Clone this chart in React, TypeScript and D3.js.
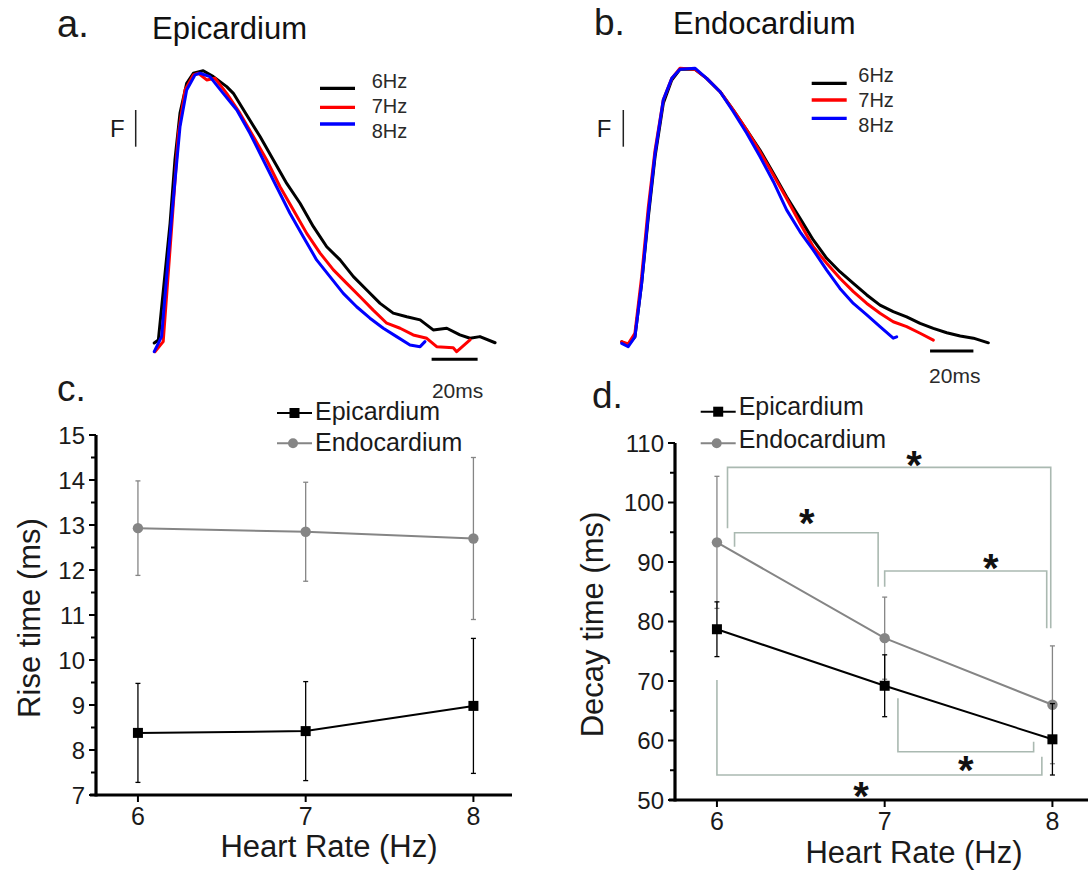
import React from 'react';
import * as d3 from 'd3';

const FONT = "'Liberation Sans', Arial, Helvetica, sans-serif";

// ---- Panel a (Epicardium) traces: [time ms, F % of peak]
const epi6Hz: [number, number][] = [
  [0.1, 2.5], [1.9, 3.6], [7.0, 45.5], [9.1, 68.1], [11.3, 84.9], [14.2, 95.6], [17.1, 99.2],
  [21.4, 100.1], [25.8, 98.0], [31.6, 94.4], [34.5, 92.0], [40.3, 84.2], [46.1, 76.5],
  [51.9, 68.1], [57.7, 59.7], [63.5, 52.6], [69.3, 44.2], [75.1, 37.0], [80.9, 32.3],
  [86.7, 26.3], [92.5, 21.5], [98.3, 16.7], [104.0, 13.2], [109.9, 11.9], [115.7, 10.8],
  [121.4, 7.2], [127.3, 7.8], [133.0, 5.4], [137.4, 4.2], [141.7, 4.8], [148.3, 2.6],
];
const epi7Hz: [number, number][] = [
  [0.4, -0.6], [4.0, 3.0], [7.7, 44.2], [10.6, 77.7], [13.5, 93.2], [17.1, 98.6], [19.3, 99.2],
  [22.9, 96.8], [26.5, 97.4], [31.6, 92.0], [37.4, 84.8], [43.2, 76.5], [49.0, 68.1],
  [54.8, 58.5], [60.6, 50.2], [66.4, 41.8], [72.2, 34.7], [78.0, 28.7], [83.8, 23.9],
  [89.6, 19.1], [95.3, 14.3], [101.2, 9.6], [107.0, 7.8], [112.7, 5.4], [118.6, 4.2],
  [122.9, 1.2], [130.1, 0.8], [131.6, -0.6], [137.4, 3.6],
];
const epi8Hz: [number, number][] = [
  [0.1, -0.6], [3.3, 4.8], [7.7, 47.8], [11.3, 80.0], [14.2, 93.2], [17.8, 98.6], [20.0, 99.2],
  [24.3, 98.0], [30.1, 92.0], [36.0, 86.0], [41.7, 77.7], [47.5, 68.1], [53.3, 58.5],
  [59.1, 49.0], [64.9, 40.6], [70.7, 32.3], [76.5, 26.3], [82.3, 20.3], [88.1, 15.5],
  [93.9, 11.4], [99.7, 7.8], [105.5, 4.8], [111.3, 1.8], [115.7, 1.2], [117.8, 3.0],
];

// ---- Panel b (Endocardium) traces
const endo6Hz: [number, number][] = [
  [0, 0.1], [3.0, -1.1], [6.1, 1.9], [9.2, 21.4], [12.3, 45.8], [15.4, 67.8], [19.2, 87.3],
  [23.1, 95.8], [26.9, 99.7], [33.8, 99.7], [39.2, 96.4], [45.4, 91.5], [51.5, 84.8],
  [57.7, 77.5], [63.8, 70.2], [70.0, 61.7], [76.1, 53.1], [82.3, 45.2], [88.4, 37.3],
  [94.6, 30.6], [100.7, 25.7], [106.9, 21.4], [113.1, 17.2], [119.2, 13.5], [125.3, 11.1],
  [131.5, 9.2], [137.7, 6.8], [143.8, 5.0], [150.0, 3.4], [156.2, 2.2], [162.3, 1.4], [169.2, -0.3],
];
const endo7Hz: [number, number][] = [
  [0, 0.1], [3.0, -0.7], [6.1, 3.2], [9.2, 23.9], [12.3, 49.5], [15.4, 70.2], [19.2, 88.6],
  [23.1, 96.4], [26.9, 100.1], [33.8, 99.7], [39.2, 96.4], [45.4, 91.5], [51.5, 84.8],
  [57.7, 77.5], [63.8, 69.6], [70.0, 61.1], [76.1, 52.5], [82.3, 43.4], [88.4, 34.8],
  [94.6, 28.8], [100.7, 23.3], [106.9, 18.4], [113.1, 14.1], [119.2, 10.5], [125.3, 7.4],
  [131.5, 5.6], [137.7, 3.2], [143.8, 0.7],
];
const endo8Hz: [number, number][] = [
  [0, -0.5], [3.0, -1.7], [6.1, 1.9], [9.2, 21.4], [12.3, 47.0], [15.4, 69.0], [19.2, 88.6],
  [23.1, 96.4], [26.9, 99.7], [33.8, 100.1], [39.2, 96.4], [45.4, 91.5], [51.5, 84.2],
  [57.7, 76.3], [63.8, 67.8], [70.0, 58.6], [76.1, 48.3], [82.3, 40.3], [88.4, 33.6],
  [94.6, 26.3], [100.7, 19.6], [106.9, 14.1], [113.1, 9.9], [119.2, 5.6], [125.3, 1.4], [126.9, 1.9],
];

const traceLabels = ['6Hz', '7Hz', '8Hz'];
const traceColors = ['#000000', '#ff0000', '#0000ff'];

// ---- Panels c / d
const heartRate = [6, 7, 8];
const riseEpi = [8.38, 8.42, 8.98];
const riseEpiErr = [1.1, 1.1, 1.5];
const riseEndo = [12.93, 12.85, 12.7];
const riseEndoErr = [1.05, 1.1, 1.8];
const decayEpi = [78.7, 69.2, 60.2];
const decayEpiErr = [4.6, 5.2, 6.0];
const decayEndo = [93.3, 77.2, 66.0];
const decayEndoErr = [11.1, 6.9, 9.9];

const riseTicks = [7, 8, 9, 10, 11, 12, 13, 14, 15];
const riseMinor = [7.5, 8.5, 9.5, 10.5, 11.5, 12.5, 13.5, 14.5];
const decayTicks = [50, 60, 70, 80, 90, 100, 110];
const decayMinor = [55, 65, 75, 85, 95, 105];

// significance brackets: [x1, x2, yBar, yEnd1, yEnd2]
const brackets: [number, number, number, number, number][] = [
  [6.063, 7.99, 105.9, 95.66, 78.86],
  [6.105, 6.961, 94.92, 92.57, 85.85],
  [7.0, 7.966, 88.49, 85.85, 78.86],
  [7.079, 7.888, 58.12, 67.09, 59.8],
  [6.0, 7.937, 54.2, 70.17, 57.28],
];
const stars: [number, number][] = [
  [7.175, 107.7],
  [6.536, 97.9],
  [7.632, 90.34],
  [7.483, 56.44],
  [6.859, 52.1],
];

const GRAY = '#858585';
const BRACKET = '#aab9b1';

function TracePanel(props: {
  traces: [number, number][][];
  x: d3.ScaleLinear<number, number>;
  y: d3.ScaleLinear<number, number>;
  legendX: number;
  legendLineYs: number[];
  legendTextX: number;
  legendTextYs: number[];
  barStart: number;
  barY: number;
  scaleLabelY: number;
  fX: number;
  fBarX: number;
}) {
  const { traces, x, y } = props;
  const line = d3
    .line<[number, number]>()
    .x((d) => x(d[0]))
    .y((d) => y(d[1]));
  const bx1 = x(props.barStart);
  const bx2 = x(props.barStart + 20);
  return (
    <g>
      {traces.map((t, i) => (
        <path
          key={i}
          d={line(t) || ''}
          fill="none"
          stroke={traceColors[i]}
          strokeWidth={3}
          strokeLinejoin="round"
          strokeLinecap="round"
        />
      ))}
      {traceLabels.map((lab, i) => (
        <g key={lab}>
          <line
            x1={props.legendX}
            x2={props.legendX + 35}
            y1={props.legendLineYs[i]}
            y2={props.legendLineYs[i]}
            stroke={traceColors[i]}
            strokeWidth={3.3}
          />
          <text x={props.legendTextX} y={props.legendTextYs[i]} fontSize={20} fill="#2a2a2a" fontFamily={FONT}>
            {lab}
          </text>
        </g>
      ))}
      <line x1={bx1} x2={bx2} y1={props.barY} y2={props.barY} stroke="#000" strokeWidth={3} />
      <text
        x={(bx1 + bx2) / 2 + 3}
        y={props.scaleLabelY}
        fontSize={21}
        textAnchor="middle"
        fill="#2a2a2a"
        fontFamily={FONT}
      >
        20ms
      </text>
      <text x={props.fX} y={137.3} fontSize={24} fill="#1a1a1a" fontFamily={FONT}>
        F
      </text>
      <line x1={props.fBarX} x2={props.fBarX} y1={110} y2={146.7} stroke="#222" strokeWidth={1.5} />
    </g>
  );
}

function StatPanel(props: {
  x: d3.ScaleLinear<number, number>;
  y: d3.ScaleLinear<number, number>;
  ticks: number[];
  minor: number[];
  epi: number[];
  epiErr: number[];
  endo: number[];
  endoErr: number[];
  yLabel: string;
  xAxisEnd: number;
  legendX: number;
  legendYs: number[];
  legendTextYs: number[];
  yLabelX: number;
  xLabelY: number;
  xLabelX: number;
  children?: React.ReactNode;
}) {
  const { x, y, ticks, minor } = props;
  const axisX = x.range()[0];
  const yMin = ticks[0];
  const yMax = ticks[ticks.length - 1];
  const axisY = y(yMin);
  const line = d3
    .line<number>()
    .x((_, i) => x(heartRate[i]))
    .y((d) => y(d));
  const lx = props.legendX;
  return (
    <g fontFamily={FONT}>
      {props.children}
      {/* endocardium */}
      {heartRate.map((h, i) => (
        <g key={'en' + h}>
          <line x1={x(h)} x2={x(h)} y1={y(props.endo[i] - props.endoErr[i])} y2={y(props.endo[i] + props.endoErr[i])} stroke={GRAY} strokeWidth={1.3} />
          <line x1={x(h) - 2.5} x2={x(h) + 2.5} y1={y(props.endo[i] + props.endoErr[i])} y2={y(props.endo[i] + props.endoErr[i])} stroke={GRAY} strokeWidth={1.3} />
          <line x1={x(h) - 2.5} x2={x(h) + 2.5} y1={y(props.endo[i] - props.endoErr[i])} y2={y(props.endo[i] - props.endoErr[i])} stroke={GRAY} strokeWidth={1.3} />
        </g>
      ))}
      <path d={line(props.endo) || ''} fill="none" stroke={GRAY} strokeWidth={2} />
      {heartRate.map((h, i) => (
        <circle key={'ec' + h} cx={x(h)} cy={y(props.endo[i])} r={5.2} fill={GRAY} />
      ))}
      {/* epicardium */}
      {heartRate.map((h, i) => (
        <g key={'ep' + h}>
          <line x1={x(h)} x2={x(h)} y1={y(props.epi[i] - props.epiErr[i])} y2={y(props.epi[i] + props.epiErr[i])} stroke="#000" strokeWidth={1.3} />
          <line x1={x(h) - 2.5} x2={x(h) + 2.5} y1={y(props.epi[i] + props.epiErr[i])} y2={y(props.epi[i] + props.epiErr[i])} stroke="#000" strokeWidth={1.3} />
          <line x1={x(h) - 2.5} x2={x(h) + 2.5} y1={y(props.epi[i] - props.epiErr[i])} y2={y(props.epi[i] - props.epiErr[i])} stroke="#000" strokeWidth={1.3} />
        </g>
      ))}
      <path d={line(props.epi) || ''} fill="none" stroke="#000" strokeWidth={2} />
      {heartRate.map((h, i) => (
        <rect key={'es' + h} x={x(h) - 5} y={y(props.epi[i]) - 5} width={10} height={10} fill="#000" />
      ))}
      {/* axes */}
      <line x1={axisX} x2={axisX} y1={y(yMax)} y2={axisY + 1.5} stroke="#000" strokeWidth={3.2} />
      <line x1={axisX - 6} x2={props.xAxisEnd} y1={axisY} y2={axisY} stroke="#000" strokeWidth={3.2} />
      {ticks.map((t) => (
        <g key={'t' + t}>
          <line x1={axisX - 7} x2={axisX} y1={y(t)} y2={y(t)} stroke="#000" strokeWidth={2} />
          <text x={axisX - 11} y={y(t)} dy="0.36em" textAnchor="end" fontSize={24} fill="#1a1a1a">
            {t}
          </text>
        </g>
      ))}
      {minor.map((t) => (
        <line key={'m' + t} x1={axisX - 5} x2={axisX} y1={y(t)} y2={y(t)} stroke="#000" strokeWidth={2} />
      ))}
      {heartRate.map((h) => (
        <g key={'x' + h}>
          <line x1={x(h)} x2={x(h)} y1={axisY} y2={axisY + 7} stroke="#000" strokeWidth={2} />
          <text x={x(h)} y={axisY + 30} textAnchor="middle" fontSize={25} fill="#1a1a1a">
            {h}
          </text>
        </g>
      ))}
      <text
        transform={`translate(${props.yLabelX},${(y(yMin) + y(yMax)) / 2 + 3}) rotate(-90)`}
        textAnchor="middle"
        fontSize={31}
        fill="#1a1a1a"
      >
        {props.yLabel}
      </text>
      <text x={props.xLabelX} y={props.xLabelY} textAnchor="middle" fontSize={31} fill="#1a1a1a">
        Heart Rate (Hz)
      </text>
      {/* legend */}
      <line x1={lx} x2={lx + 35} y1={props.legendYs[0]} y2={props.legendYs[0]} stroke="#000" strokeWidth={2} />
      <rect x={lx + 12.5} y={props.legendYs[0] - 5} width={10} height={10} fill="#000" />
      <text x={lx + 38} y={props.legendTextYs[0]} fontSize={25} fill="#1a1a1a">
        Epicardium
      </text>
      <line x1={lx} x2={lx + 35} y1={props.legendYs[1]} y2={props.legendYs[1]} stroke={GRAY} strokeWidth={2} />
      <circle cx={lx + 16} cy={props.legendYs[1]} r={5} fill={GRAY} />
      <text x={lx + 38} y={props.legendTextYs[1]} fontSize={25} fill="#1a1a1a">
        Endocardium
      </text>
    </g>
  );
}

export default function App() {
  const xa = d3.scaleLinear().domain([0, 100]).range([154, 384]);
  const ya = d3.scaleLinear().domain([0, 100]).range([350, 71]);
  const xb = d3.scaleLinear().domain([0, 100]).range([621.7, 838.4]);
  const yb = d3.scaleLinear().domain([0, 100]).range([342, 68.5]);

  const xc = d3.scaleLinear().domain([5.75, 8.23]).range([96, 512]);
  const yc = d3.scaleLinear().domain([7, 15]).range([795, 435]);
  const xd = d3.scaleLinear().domain([5.75, 8.23]).range([675, 1091]);
  const yd = d3.scaleLinear().domain([50, 110]).range([800, 443]);

  return (
    <svg
      width={1088}
      height={871}
      viewBox="0 0 1088 871"
      style={{ position: 'absolute', left: 0, top: 0, background: '#fff' }}
      fontFamily={FONT}
    >
      <rect x={0} y={0} width={1088} height={871} fill="#fff" />
      {/* panel labels and titles */}
      <text x={57} y={36.7} fontSize={38} fill="#1a1a1a">a.</text>
      <text x={152} y={39.3} fontSize={31} fill="#111">Epicardium</text>
      <text x={594} y={35} fontSize={37} fill="#1a1a1a">b.</text>
      <text x={673} y={34.3} fontSize={31} fill="#111">Endocardium</text>
      <text x={57} y={400.7} fontSize={37} fill="#1a1a1a">c.</text>
      <text x={592} y={408.3} fontSize={37} fill="#1a1a1a">d.</text>

      <TracePanel
        traces={[epi6Hz, epi7Hz, epi8Hz]}
        x={xa}
        y={ya}
        legendX={320}
        legendLineYs={[88.3, 107.3, 124]}
        legendTextX={371.7}
        legendTextYs={[88.3, 113.3, 138.3]}
        barStart={120.7}
        barY={359.3}
        scaleLabelY={398.3}
        fX={110}
        fBarX={135.7}
      />
      <TracePanel
        traces={[endo6Hz, endo7Hz, endo8Hz]}
        x={xb}
        y={yb}
        legendX={811.7}
        legendLineYs={[83.3, 100, 118.3]}
        legendTextX={858.3}
        legendTextYs={[81.7, 106.7, 131.7]}
        barStart={142.3}
        barY={351}
        scaleLabelY={383.3}
        fX={596.7}
        fBarX={623.3}
      />

      <StatPanel
        x={xc}
        y={yc}
        ticks={riseTicks}
        minor={riseMinor}
        epi={riseEpi}
        epiErr={riseEpiErr}
        endo={riseEndo}
        endoErr={riseEndoErr}
        yLabel="Rise time (ms)"
        xAxisEnd={512}
        legendX={277}
        legendYs={[413, 443.3]}
        legendTextYs={[420, 450.7]}
        yLabelX={40}
        xLabelX={329}
        xLabelY={857}
      />
      <StatPanel
        x={xd}
        y={yd}
        ticks={decayTicks}
        minor={decayMinor}
        epi={decayEpi}
        epiErr={decayEpiErr}
        endo={decayEndo}
        endoErr={decayEndoErr}
        yLabel="Decay time (ms)"
        xAxisEnd={1088}
        legendX={700.7}
        legendYs={[411.7, 443.3]}
        legendTextYs={[415, 448.3]}
        yLabelX={603}
        xLabelX={914}
        xLabelY={863.3}
      >
        {brackets.map((b, i) => (
          <path
            key={'br' + i}
            d={`M${xd(b[0])},${yd(b[3])}L${xd(b[0])},${yd(b[2])}L${xd(b[1])},${yd(b[2])}L${xd(b[1])},${yd(b[4])}`}
            fill="none"
            stroke={BRACKET}
            strokeWidth={1.6}
          />
        ))}
        {stars.map((s, i) => (
          <text
            key={'st' + i}
            x={xd(s[0])}
            y={yd(s[1]) + 22}
            textAnchor="middle"
            fontSize={40}
            fontWeight="bold"
            fill="#111"
          >
            *
          </text>
        ))}
      </StatPanel>
    </svg>
  );
}
